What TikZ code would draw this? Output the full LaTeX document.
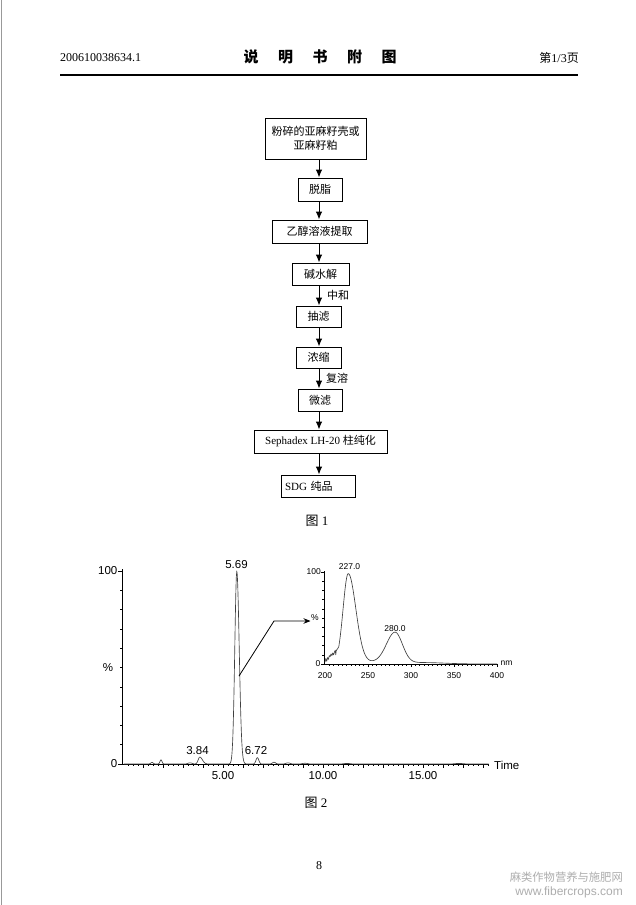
\documentclass[tikz,border=0pt]{standalone}
\usepackage{fontspec}
\setmainfont{Liberation Serif}
\newfontfamily\cjk{Noto Sans CJK SC}
\newfontfamily\arialf{Liberation Sans}
\usetikzlibrary{arrows.meta}
\begin{document}
\begin{tikzpicture}[x=1pt,y=-1pt,
  declare function={
    gs(\p,\m,\s)=exp(-0.5*pow(min(abs(\p-\m)/\s,9),2));
    ga(\p,\m,\u,\v)=exp(-0.5*pow(min(abs(\p-\m)/((\p<\m)*\u+(1-(\p<\m))*\v),9),2));
    chrom(\q)=100*ga(\q,5.69,0.10,0.12)+3.6*ga(\q,3.84,0.08,0.13)+3.3*gs(\q,6.72,0.07)+2.2*gs(\q,1.9,0.05)+0.8*gs(\q,1.45,0.06)+0.6*gs(\q,3.35,0.1)+0.9*gs(\q,7.55,0.08)+0.6*gs(\q,8.25,0.1)+0.4*gs(\q,9.1,0.12)+0.3*gs(\q,11.2,0.15)+0.3*gs(\q,16.8,0.2);
    spec(\w)=97*ga(\w,227,6,8.8)+33*ga(\w,281.5,10,8.5)+2*gs(\w,252,25)+1.5*gs(\w,315,25);
  },
  box/.style={draw,line width=0.9pt,inner sep=0pt,align=center,font=\fontsize{11}{13.5}\selectfont\cjk},
  flow/.style={line width=1pt,-{Latex[length=8pt,width=6.5pt]}},
  axisline/.style={line width=0.75pt,black},
  tickline/.style={line width=0.5pt,black},
  curveline/.style={line width=0.65pt,black!75,line join=round},
  mlab/.style={font=\fontsize{11.5}{11.5}\selectfont\arialf,inner sep=0pt},
  ilab/.style={font=\fontsize{8.5}{8.5}\selectfont\arialf,inner sep=0pt},
  hdr/.style={font=\fontsize{12}{12}\selectfont,inner sep=0pt},
  captxt/.style={font=\fontsize{13}{13}\selectfont,inner sep=0pt},
  wmark/.style={text=black!32,inner sep=0pt}
]
\fill[white] (0,0) rectangle (636,905);
\useasboundingbox (0,0) rectangle (636,905);
\draw[black!40,line width=0.8pt] (1,0) -- (1,905);

% header
\node[hdr,anchor=west] (hl) at (60,58) {200610038634.1};
\node[inner sep=0pt,font=\fontsize{15}{15}\selectfont\cjk\bfseries] (ht) at (320,57) {说\hspace{19.5pt}明\hspace{19.5pt}书\hspace{19.5pt}附\hspace{19.5pt}图};
\node[hdr,anchor=east] (hr) at (579,58) {{\cjk 第}1/3{\cjk 页}};
\draw[line width=1.1pt] (60,75) -- (578,75);

% flowchart
\node[box,minimum width=101pt,minimum height=41pt] (b1) at (315.5,138.5) {粉碎的亚麻籽壳或\\亚麻籽粕};
\node[box,minimum width=44pt,minimum height=23pt] (b2) at (320,189.5) {脱脂};
\node[box,minimum width=95pt,minimum height=23pt] (b3) at (319.5,231.5) {乙醇溶液提取};
\node[box,minimum width=57pt,minimum height=22pt] (b4) at (320.5,274) {碱水解};
\node[box,minimum width=45pt,minimum height=21pt] (b5) at (318.5,316.5) {抽滤};
\node[box,minimum width=45pt,minimum height=21pt] (b6) at (318.5,357.5) {浓缩};
\node[box,minimum width=44pt,minimum height=22pt] (b7) at (320,400) {微滤};
\node[box,minimum width=133pt,minimum height=23pt,font=\fontsize{11}{13.5}\selectfont\rmfamily] (b8) at (320.5,441.5) {Sephadex LH-20 {\cjk 柱纯化}};
\node[box,text width=66pt,align=left,inner xsep=4pt,minimum height=22pt,font=\fontsize{11}{13.5}\selectfont\rmfamily] (b9) at (318,486) {SDG {\cjk 纯品}};
\coordinate (ax) at (319,0);
\foreach \a/\b in {b1/b2,b2/b3,b3/b4,b4/b5,b5/b6,b6/b7,b7/b8,b8/b9}
  \draw[flow] (\a.south -| ax) -- (\b.north -| ax);
\node[anchor=west,inner sep=0pt,font=\fontsize{11}{11}\selectfont\cjk] (lzh) at (327,295) {中和};
\node[anchor=west,inner sep=0pt,font=\fontsize{11}{11}\selectfont\cjk] (lfr) at (326,378) {复溶};
\node[captxt] (c1) at (317,521) {{\cjk 图} 1};

% main chromatogram
\begin{scope}[shift={(123,764)},x=20pt,y=1.93pt]
  \draw[axisline] (-0.05,101) -- (-0.05,0) -- (18.3,0);
  \foreach \p in {10,20,...,90} \draw[tickline] (-0.05,\p) -- ++(-2.5pt,0);
  \foreach \p in {0,100} \draw[tickline] (-0.05,\p) -- ++(-4pt,0);
  \foreach \t in {0.25,0.5,...,18.25} \draw[tickline] (\t,0) -- ++(0,-2pt);
  \foreach \t in {1,...,18} \draw[tickline] (\t,0) -- ++(0,-3.5pt);
  \draw[curveline] plot[domain=0.04:18.29,samples=731] (\x,{chrom(\x)});
\end{scope}
\node[mlab,anchor=east] (y100) at (117.5,571) {100};
\node[mlab] (ypc) at (108,668) {\%};
\node[mlab,anchor=east] (y0) at (117.5,764) {0};
\node[mlab] (x5) at (223,776) {5.00};
\node[mlab] (x10) at (323,776) {10.00};
\node[mlab] (x15) at (423,776) {15.00};
\node[mlab,anchor=west] (xt) at (494,765) {Time};
\node[mlab] (p569) at (236.5,564.5) {5.69};
\node[mlab] (p384) at (197.5,751) {3.84};
\node[mlab] (p672) at (256,751) {6.72};
\node[captxt] (c2) at (316,803) {{\cjk 图} 2};

% link arrow
\coordinate (pk) at (239,676);
\coordinate (bd) at (274,621);
\coordinate (tp) at (310.5,621);
\draw[line width=0.8pt,-{Stealth[length=7pt,width=5.5pt]}] (pk) -- (bd) -- (tp);

% inset spectrum
\begin{scope}[shift={(153,664)},x=0.86pt,y=0.92pt]
  \draw[axisline] (199,101) -- (199,0) -- (401,0);
  \foreach \p in {10,20,...,90} \draw[tickline] (199,\p) -- ++(-2pt,0);
  \foreach \p in {0,100} \draw[tickline] (199,\p) -- ++(-3pt,0);
  \foreach \l in {205,210,...,395} \draw[tickline] (\l,0) -- ++(0,-1.5pt);
  \foreach \l in {250,300,350,400} \draw[tickline] (\l,0) -- ++(0,-3pt);
  \draw[curveline] plot coordinates {(200,2) (201,6) (202,3) (203,7) (204,5) (205,9) (206,8) (207,11) (208,9) (209,12) (210,10) (211,13) (212,15) (212.5,10) (213,14) (214,16) (215,17)}
    -- plot[domain=216:400,samples=369] (\x,{spec(\x)});
\end{scope}
\node[ilab,anchor=east] (i100) at (321,572) {100};
\node[ilab] (ipc) at (315,618) {\%};
\node[ilab,anchor=east] (i0) at (320.5,664) {0};
\node[ilab] (i200) at (325,675.5) {200};
\node[ilab] (i250) at (368,675.5) {250};
\node[ilab] (i300) at (411,675.5) {300};
\node[ilab] (i350) at (454,675.5) {350};
\node[ilab] (i400) at (497,675.5) {400};
\node[ilab,anchor=west] (inm) at (500.5,663) {nm};
\node[ilab] (p227) at (349.5,567) {227.0};
\node[ilab] (p280) at (395,629) {280.0};

% footer
\node[hdr] (pg) at (319,866) {8};
\node[wmark,anchor=east,font=\fontsize{11.3}{11.3}\selectfont\cjk] (wm1) at (623,877) {麻类作物营养与施肥网};
\node[wmark,anchor=east,font=\fontsize{12}{12}\selectfont\arialf] (wm2) at (623,892) {www.fibercrops.com};
\end{tikzpicture}
\end{document}
